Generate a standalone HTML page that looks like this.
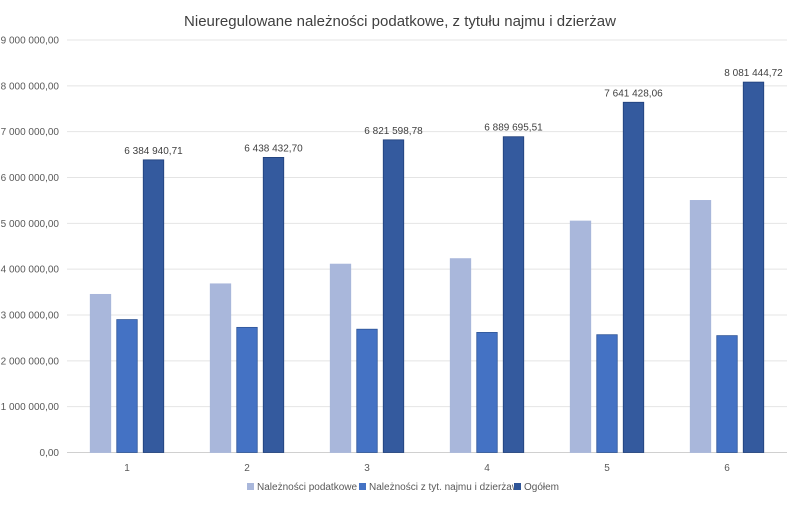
<!DOCTYPE html>
<html><head><meta charset="utf-8"><style>
body{margin:0;background:#fff;font-family:"Liberation Sans",sans-serif}
svg text{font-family:"Liberation Sans",sans-serif}
</style></head><body>
<svg id="chart" width="800" height="502" xmlns="http://www.w3.org/2000/svg">
<rect width="800" height="502" fill="#fff"/>
<text x="400" y="26" text-anchor="middle" font-size="15" fill="#404040">Nieuregulowane należności podatkowe, z tytułu najmu i dzierżaw</text>
<g id="grid"></g><g id="bars"></g><g id="labels"></g>
<g font-size="10" fill="#595959">
<rect x="247" y="483" width="7" height="7" fill="#a9b7db"/><text x="257" y="490">Należności podatkowe</text>
<rect x="359" y="483" width="7" height="7" fill="#4472c4"/><text x="369" y="490">Należności z tyt. najmu i dzierżaw</text>
<rect x="514" y="483" width="7" height="7" fill="#2f5597"/><text x="524" y="490">Ogółem</text>
</g>
</svg>
<script>
const categories=["1","2","3","4","5","6"];
const podatkowe=[3450000,3680000,4110000,4230000,5050000,5500000];
const najem=[2900000,2730000,2690000,2620000,2570000,2550000];
const ogolem=[6384940.71,6438432.70,6821598.78,6889695.51,7641428.06,8081444.72];
const ogolemLabels=["6 384 940,71","6 438 432,70","6 821 598,78","6 889 695,51","7 641 428,06","8 081 444,72"];
const yTicks=[0,1000000,2000000,3000000,4000000,5000000,6000000,7000000,8000000,9000000];
const yTickLabels=["0,00","1 000 000,00","2 000 000,00","3 000 000,00","4 000 000,00","5 000 000,00","6 000 000,00","7 000 000,00","8 000 000,00","9 000 000,00"];
const NS="http://www.w3.org/2000/svg";
const y0=452.5,yTop=40,left=67,right=787,maxV=9000000;
const yS=v=>y0-(v/maxV)*(y0-yTop);
const step=(right-left)/categories.length;
const xC=i=>left+step*(i+0.5);
function mk(t,a,p){const e=document.createElementNS(NS,t);for(const k in a)e.setAttribute(k,a[k]);p.appendChild(e);return e;}
const grid=document.getElementById('grid'),bars=document.getElementById('bars'),labels=document.getElementById('labels');
yTicks.forEach((v,i)=>{
 const l=mk('line',{x1:left,x2:right,y1:yS(v),y2:yS(v),stroke:i===0?'#d0d0d0':'#e4e4e4','stroke-width':1},grid);
 
 
 const t=mk('text',{x:59,y:yS(v)+3.5,'text-anchor':'end','font-size':'10',fill:'#595959'},grid);
 t.textContent=yTickLabels[i];
 
 
});
const series=[[podatkowe,'#a9b7db','#a9b7db'],[najem,'#4472c4','#2f5597'],[ogolem,'#345a9e','#1f3f7a']];
const bw=20.5,gap=26.5;
categories.forEach((c,i)=>{
 series.forEach((s,j)=>{
  const x=xC(i)+(j-1)*gap-bw/2;
  const r=mk('rect',{x:x,y:yS(s[0][i]),width:bw,height:y0-yS(s[0][i]),fill:s[1],stroke:s[2],'stroke-width':0.8},bars);
  
  
 });
 const t=mk('text',{x:xC(i),y:471,'text-anchor':'middle','font-size':'10',fill:'#595959'},labels);
 t.textContent=c;
 
 
 const d=mk('text',{x:xC(i)+gap,y:yS(ogolem[i])-6,'text-anchor':'middle','font-size':'10',fill:'#404040'},labels);
 d.textContent=ogolemLabels[i];
 
 
});
</script>
</body></html>
